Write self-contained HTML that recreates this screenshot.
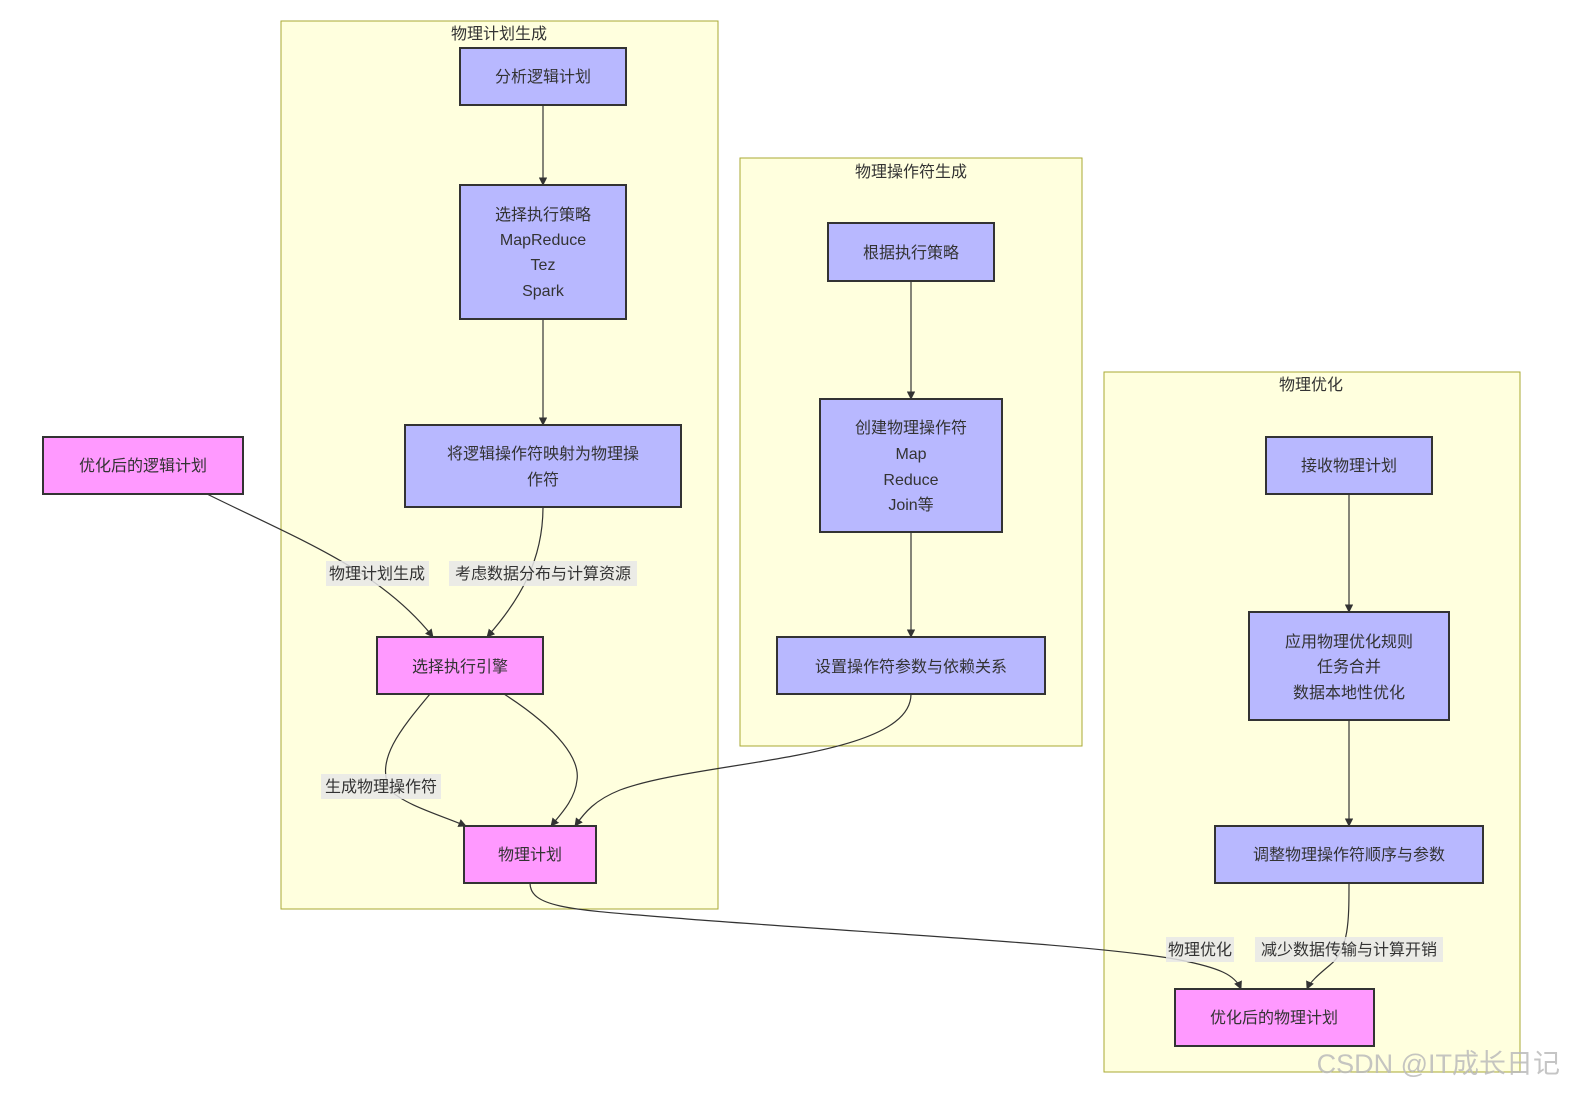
<!DOCTYPE html>
<html><head><meta charset="utf-8"><style>
html,body{margin:0;padding:0;background:#fff;}
svg text{font-family:"Liberation Sans","Noto Sans CJK SC",sans-serif;font-size:16px;fill:#333;}
.cl{fill:#ffffde;stroke:#aaaa33;stroke-width:1;}
.n{fill:#b8b8ff;stroke:#333;stroke-width:2;}
.p{fill:#ff99ff;stroke:#333;stroke-width:2;}
.e{fill:none;stroke:#333;stroke-width:1.2;}
.lb{fill:#e8e8e8;opacity:0.85;}
</style></head><body>
<svg width="1588" height="1106" xmlns="http://www.w3.org/2000/svg">
<defs><marker id="a" viewBox="0 0 10 10" refX="9" refY="5" markerWidth="7" markerHeight="7" orient="auto"><path d="M0,0L10,5L0,10z" fill="#333"/></marker></defs>
<rect class="cl" x="281" y="21" width="437" height="888"/>
<rect class="cl" x="740" y="158" width="342" height="588"/>
<rect class="cl" x="1104" y="372" width="416" height="700"/>
<text x="499" y="39" text-anchor="middle">物理计划生成</text>
<text x="911" y="177" text-anchor="middle">物理操作符生成</text>
<text x="1311" y="390" text-anchor="middle">物理优化</text>

<path class="e" marker-end="url(#a)" d="M543,105L543,185"/>
<path class="e" marker-end="url(#a)" d="M543,319L543,425"/>
<path class="e" marker-end="url(#a)" d="M543,507C543,560 520,600 487,637"/>
<path class="e" marker-end="url(#a)" d="M207,494C300,540 380,570 433,637"/>
<path class="e" marker-end="url(#a)" d="M430,694C400,730 375,760 390,790C405,805 440,815 466,826"/>
<path class="e" marker-end="url(#a)" d="M504,694C560,730 580,760 577,780C575,800 560,815 551,826"/>
<path class="e" marker-end="url(#a)" d="M911,694C911,760 700,760 620,790C595,800 585,812 575,826"/>
<path class="e" marker-end="url(#a)" d="M911,281L911,399"/>
<path class="e" marker-end="url(#a)" d="M911,532L911,637"/>
<path class="e" marker-end="url(#a)" d="M1349,494L1349,612"/>
<path class="e" marker-end="url(#a)" d="M1349,720L1349,826"/>
<path class="e" marker-end="url(#a)" d="M530,883C530,910 580,910 700,920C900,935 1100,945 1180,960C1220,968 1235,975 1241,989"/>
<path class="e" marker-end="url(#a)" d="M1349,883C1349,920 1349,950 1330,965C1318,975 1310,982 1307,989"/>

<rect class="lb" x="326" y="561" width="103" height="25"/><text x="377" y="579" text-anchor="middle">物理计划生成</text>
<rect class="lb" x="449" y="561" width="188" height="25"/><text x="543" y="579" text-anchor="middle">考虑数据分布与计算资源</text>
<rect class="lb" x="321" y="774" width="120" height="25"/><text x="381" y="792" text-anchor="middle">生成物理操作符</text>
<rect class="lb" x="1166" y="937" width="68" height="25"/><text x="1200" y="955" text-anchor="middle">物理优化</text>
<rect class="lb" x="1255" y="937" width="188" height="25"/><text x="1349" y="955" text-anchor="middle">减少数据传输与计算开销</text>

<rect class="n" x="460" y="48" width="166" height="57"/><text x="543" y="82" text-anchor="middle">分析逻辑计划</text>
<rect class="n" x="460" y="185" width="166" height="134"/>
<text x="543" y="220" text-anchor="middle">选择执行策略</text><text x="543" y="245" text-anchor="middle">MapReduce</text><text x="543" y="270" text-anchor="middle">Tez</text><text x="543" y="296" text-anchor="middle">Spark</text>
<rect class="n" x="405" y="425" width="276" height="82"/>
<text x="543" y="459" text-anchor="middle">将逻辑操作符映射为物理操</text><text x="543" y="485" text-anchor="middle">作符</text>
<rect class="p" x="43" y="437" width="200" height="57"/><text x="143" y="471" text-anchor="middle">优化后的逻辑计划</text>
<rect class="p" x="377" y="637" width="166" height="57"/><text x="460" y="672" text-anchor="middle">选择执行引擎</text>
<rect class="p" x="464" y="826" width="132" height="57"/><text x="530" y="860" text-anchor="middle">物理计划</text>
<rect class="n" x="828" y="223" width="166" height="58"/><text x="911" y="258" text-anchor="middle">根据执行策略</text>
<rect class="n" x="820" y="399" width="182" height="133"/>
<text x="911" y="433" text-anchor="middle">创建物理操作符</text><text x="911" y="459" text-anchor="middle">Map</text><text x="911" y="485" text-anchor="middle">Reduce</text><text x="911" y="510" text-anchor="middle">Join等</text>
<rect class="n" x="777" y="637" width="268" height="57"/><text x="911" y="672" text-anchor="middle">设置操作符参数与依赖关系</text>
<rect class="n" x="1266" y="437" width="166" height="57"/><text x="1349" y="471" text-anchor="middle">接收物理计划</text>
<rect class="n" x="1249" y="612" width="200" height="108"/>
<text x="1349" y="647" text-anchor="middle">应用物理优化规则</text><text x="1349" y="672" text-anchor="middle">任务合并</text><text x="1349" y="698" text-anchor="middle">数据本地性优化</text>
<rect class="n" x="1215" y="826" width="268" height="57"/><text x="1349" y="860" text-anchor="middle">调整物理操作符顺序与参数</text>
<rect class="p" x="1175" y="989" width="199" height="57"/><text x="1274" y="1023" text-anchor="middle">优化后的物理计划</text>

<text x="1560" y="1073" text-anchor="end" style="font-size:27px;fill:#bbb;opacity:0.85">CSDN @IT成长日记</text>
</svg>
</body></html>
